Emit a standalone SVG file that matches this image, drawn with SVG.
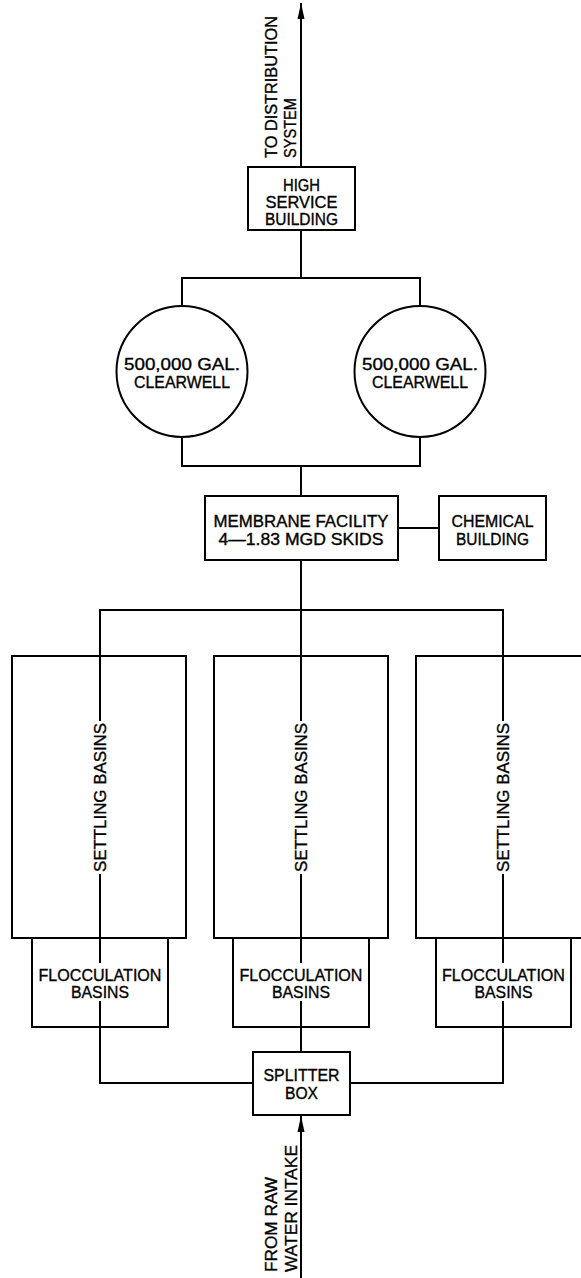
<svg xmlns="http://www.w3.org/2000/svg" width="581" height="1278" viewBox="0 0 581 1278">
<style>
.b{fill:#fff;stroke:#000;stroke-width:2}
.c{fill:none;stroke:#000;stroke-width:2}
text{font-family:"Liberation Sans",Arial,sans-serif;font-size:17px;fill:#000;stroke:#000;stroke-width:0.35}
.m{text-anchor:middle}
</style>
<defs>
<marker id="ah" markerUnits="userSpaceOnUse" markerWidth="16" markerHeight="8" refX="16" refY="4" orient="auto">
<path d="M0,0.5 L16,4 L0,7.5 z" fill="#000"/>
</marker>
</defs>
<rect width="581" height="1278" fill="#fff"/>
<g id="connectors">
<path class="c" d="M301,167 L301,3" marker-end="url(#ah)"/>
<path class="c" d="M301,230 L301,278 M182,306 L182,278 L420,278 L420,306"/>
<path class="c" d="M182,437 L182,466 L420,466 L420,437 M301,466 L301,496"/>
<path class="c" d="M398,528 L439,528"/>
<path class="c" d="M301,560 L301,610 M100,721 L100,610 L503,610 L503,721 M301,610 L301,721"/>
<path class="c" d="M100,874 L100,963 M301,874 L301,963 M503,874 L503,963"/>
<path class="c" d="M100,1001 L100,1083 L253,1083 M503,1001 L503,1083 L350,1083 M301,1001 L301,1052"/>
<path class="c" d="M301,1278 L301,1116" marker-end="url(#ah)"/>
</g>
<g id="label-distribution">
<text transform="translate(277,158) rotate(-90)" textLength="142" lengthAdjust="spacingAndGlyphs">TO DISTRIBUTION</text>
<text transform="translate(296,158) rotate(-90)" textLength="60" lengthAdjust="spacingAndGlyphs">SYSTEM</text>
</g>
<g id="high-service">
<rect class="b" x="248" y="167" width="107" height="63"/>
<text class="m" x="301.5" y="191" textLength="37" lengthAdjust="spacingAndGlyphs">HIGH</text>
<text class="m" x="301.5" y="208" textLength="72" lengthAdjust="spacingAndGlyphs">SERVICE</text>
<text class="m" x="301.5" y="225" textLength="73" lengthAdjust="spacingAndGlyphs">BUILDING</text>
</g>
<g id="clearwell-1">
<circle class="b" cx="182" cy="371.5" r="65.5"/>
<text class="m" x="182" y="370" textLength="116" lengthAdjust="spacingAndGlyphs">500,000 GAL.</text>
<text class="m" x="182" y="388" textLength="96" lengthAdjust="spacingAndGlyphs">CLEARWELL</text>
</g>
<g id="clearwell-2">
<circle class="b" cx="420" cy="371.5" r="65.5"/>
<text class="m" x="420" y="370" textLength="116" lengthAdjust="spacingAndGlyphs">500,000 GAL.</text>
<text class="m" x="420" y="388" textLength="96" lengthAdjust="spacingAndGlyphs">CLEARWELL</text>
</g>
<g id="membrane">
<rect class="b" x="205" y="496" width="193" height="64"/>
<text class="m" x="301" y="527" textLength="175" lengthAdjust="spacingAndGlyphs">MEMBRANE FACILITY</text>
<text class="m" x="301" y="545" textLength="165" lengthAdjust="spacingAndGlyphs">4—1.83 MGD SKIDS</text>
</g>
<g id="chemical">
<rect class="b" x="439" y="496" width="107" height="64"/>
<text class="m" x="492.5" y="527" textLength="82" lengthAdjust="spacingAndGlyphs">CHEMICAL</text>
<text class="m" x="492.5" y="545" textLength="73" lengthAdjust="spacingAndGlyphs">BUILDING</text>
</g>
<g id="settling-1">
<rect class="c" x="12" y="656" width="174" height="282"/>
<text class="m" transform="translate(106,797.5) rotate(-90)" textLength="149" lengthAdjust="spacingAndGlyphs">SETTLING BASINS</text>
</g>
<g id="settling-2">
<rect class="c" x="214" y="656" width="174" height="282"/>
<text class="m" transform="translate(307,797.5) rotate(-90)" textLength="149" lengthAdjust="spacingAndGlyphs">SETTLING BASINS</text>
</g>
<g id="settling-3">
<rect class="c" x="416" y="656" width="174" height="282"/>
<text class="m" transform="translate(509,797.5) rotate(-90)" textLength="149" lengthAdjust="spacingAndGlyphs">SETTLING BASINS</text>
</g>
<g id="flocculation-1">
<path class="c" d="M32,938 L32,1027 L168,1027 L168,938"/>
<text class="m" x="100" y="981" textLength="123" lengthAdjust="spacingAndGlyphs">FLOCCULATION</text>
<text class="m" x="100" y="998" textLength="58" lengthAdjust="spacingAndGlyphs">BASINS</text>
</g>
<g id="flocculation-2">
<path class="c" d="M233,938 L233,1027 L369,1027 L369,938"/>
<text class="m" x="301" y="981" textLength="123" lengthAdjust="spacingAndGlyphs">FLOCCULATION</text>
<text class="m" x="301" y="998" textLength="58" lengthAdjust="spacingAndGlyphs">BASINS</text>
</g>
<g id="flocculation-3">
<path class="c" d="M436,938 L436,1027 L571,1027 L571,938"/>
<text class="m" x="503.5" y="981" textLength="123" lengthAdjust="spacingAndGlyphs">FLOCCULATION</text>
<text class="m" x="503.5" y="998" textLength="58" lengthAdjust="spacingAndGlyphs">BASINS</text>
</g>
<g id="splitter">
<rect class="b" x="253" y="1052" width="97" height="63"/>
<text class="m" x="301.5" y="1081" textLength="76" lengthAdjust="spacingAndGlyphs">SPLITTER</text>
<text class="m" x="301.5" y="1099" textLength="33" lengthAdjust="spacingAndGlyphs">BOX</text>
</g>
<g id="label-intake">
<text transform="translate(277,1272) rotate(-90)" textLength="95" lengthAdjust="spacingAndGlyphs">FROM RAW</text>
<text transform="translate(297,1272) rotate(-90)" textLength="127" lengthAdjust="spacingAndGlyphs">WATER INTAKE</text>
</g>
</svg>
